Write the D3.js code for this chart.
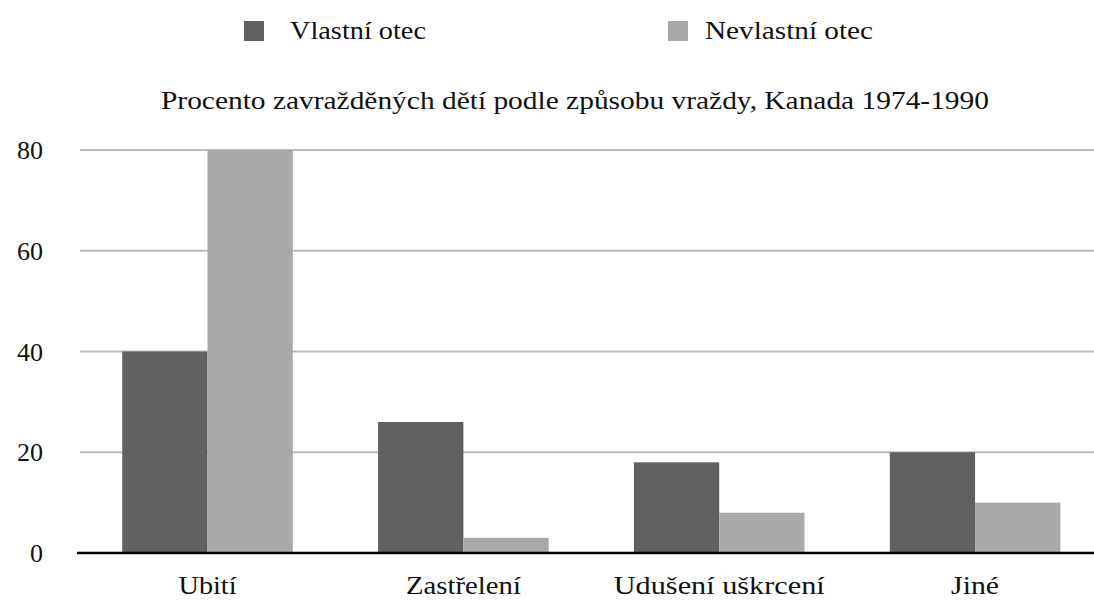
<!DOCTYPE html>
<html><head><meta charset="utf-8">
<script src="https://cdn.jsdelivr.net/npm/d3@7"></script>
<style>body{margin:0;background:#fff}svg{display:block}</style>
</head><body><svg id="c" width="1094" height="601"></svg>
<script>
const categories = ["Ubití", "Zastřelení", "Udušení uškrcení", "Jiné"];
const seriesNames = ["Vlastní otec", "Nevlastní otec"];
const vlastni = [40, 26, 18, 20];
const nevlastni = [80, 3, 8, 10];
const yTicks = [0, 20, 40, 60, 80];
const colors = ["#606060", "#a9a9a9"];
const title = "Procento zavražděných dětí podle způsobu vraždy, Kanada 1974-1990";

const FONT = '"Liberation Serif"';
const svg = d3.select("#c");
const x0 = 79.6, x1 = 1103, yTop = 150, yBot = 553;
const x = d3.scaleBand().domain(categories).range([x0, x1]);
const xs = d3.scaleBand().domain(seriesNames).range([0, x.bandwidth()]).paddingOuter(0.5).paddingInner(0);
const y = d3.scaleLinear().domain([0, 80]).range([yBot, yTop]);

function styleText(sel, size) {
  sel.style("font-family", FONT).style("font-size", (size || 26) + "px").style("fill", "#111");
}
function fit(sel, widths) {
  sel.each(function(d, i) {
    const w = typeof widths === "function" ? widths(d, i) : widths;
    if (w) d3.select(this).attr("textLength", w).attr("lengthAdjust", "spacingAndGlyphs");
  });
}

svg.append("g").selectAll("line").data(yTicks.filter(d => d > 0)).join("line")
  .attr("x1", 80).attr("x2", 1094).attr("y1", d => y(d)).attr("y2", d => y(d))
  .attr("stroke", "#bbbbbb").attr("stroke-width", 2);

const data = categories.map((c, i) => ({c, v: [vlastni[i], nevlastni[i]]}));
const g = svg.append("g").selectAll("g").data(data).join("g")
  .attr("transform", d => `translate(${x(d.c)},0)`);
g.selectAll("rect").data(d => d.v.map((v, j) => ({v, s: seriesNames[j], j}))).join("rect")
  .attr("x", d => xs(d.s)).attr("width", xs.bandwidth())
  .attr("y", d => y(d.v)).attr("height", d => y(0) - y(d.v))
  .attr("fill", d => colors[d.j]);

svg.append("line").attr("x1", 77).attr("x2", 1094).attr("y1", y(0)).attr("y2", y(0))
  .attr("stroke", "#000").attr("stroke-width", 2.5);

const yAxis = d3.axisLeft(y).tickValues(yTicks).tickSize(0).tickPadding(0);
const ya = svg.append("g").attr("transform", "translate(43,0)").call(yAxis);
ya.attr("font-family", null).attr("font-size", null);
ya.select(".domain").remove();
ya.selectAll("text").call(styleText, 26).attr("dy", "0.33em");

const catW = [58, 115, 211, 48];
const xAxis = d3.axisBottom(x).tickSize(0).tickPadding(0);
const xa = svg.append("g").attr("transform", "translate(0,594)").call(xAxis);
xa.attr("font-family", null).attr("font-size", null);
xa.select(".domain").remove();
xa.selectAll("text").call(styleText).attr("dy", 0).call(fit, (d, i) => catW[i]);

svg.append("text").attr("x", 575).attr("y", 109).attr("text-anchor", "middle")
  .text(title).call(styleText).call(fit, 828);

const legX = [244, 668];
const legW = [136, 168];
const lg = svg.append("g").selectAll("g").data(seriesNames).join("g")
  .attr("transform", (d, i) => `translate(${legX[i]},21)`);
lg.append("rect").attr("width", 20).attr("height", 20).attr("fill", (d, i) => colors[i]);
lg.append("text").attr("x", (d, i) => i ? 37 : 46).attr("y", 18)
  .text(d => d).call(styleText).call(fit, (d, i) => legW[i]);
</script></body></html>
